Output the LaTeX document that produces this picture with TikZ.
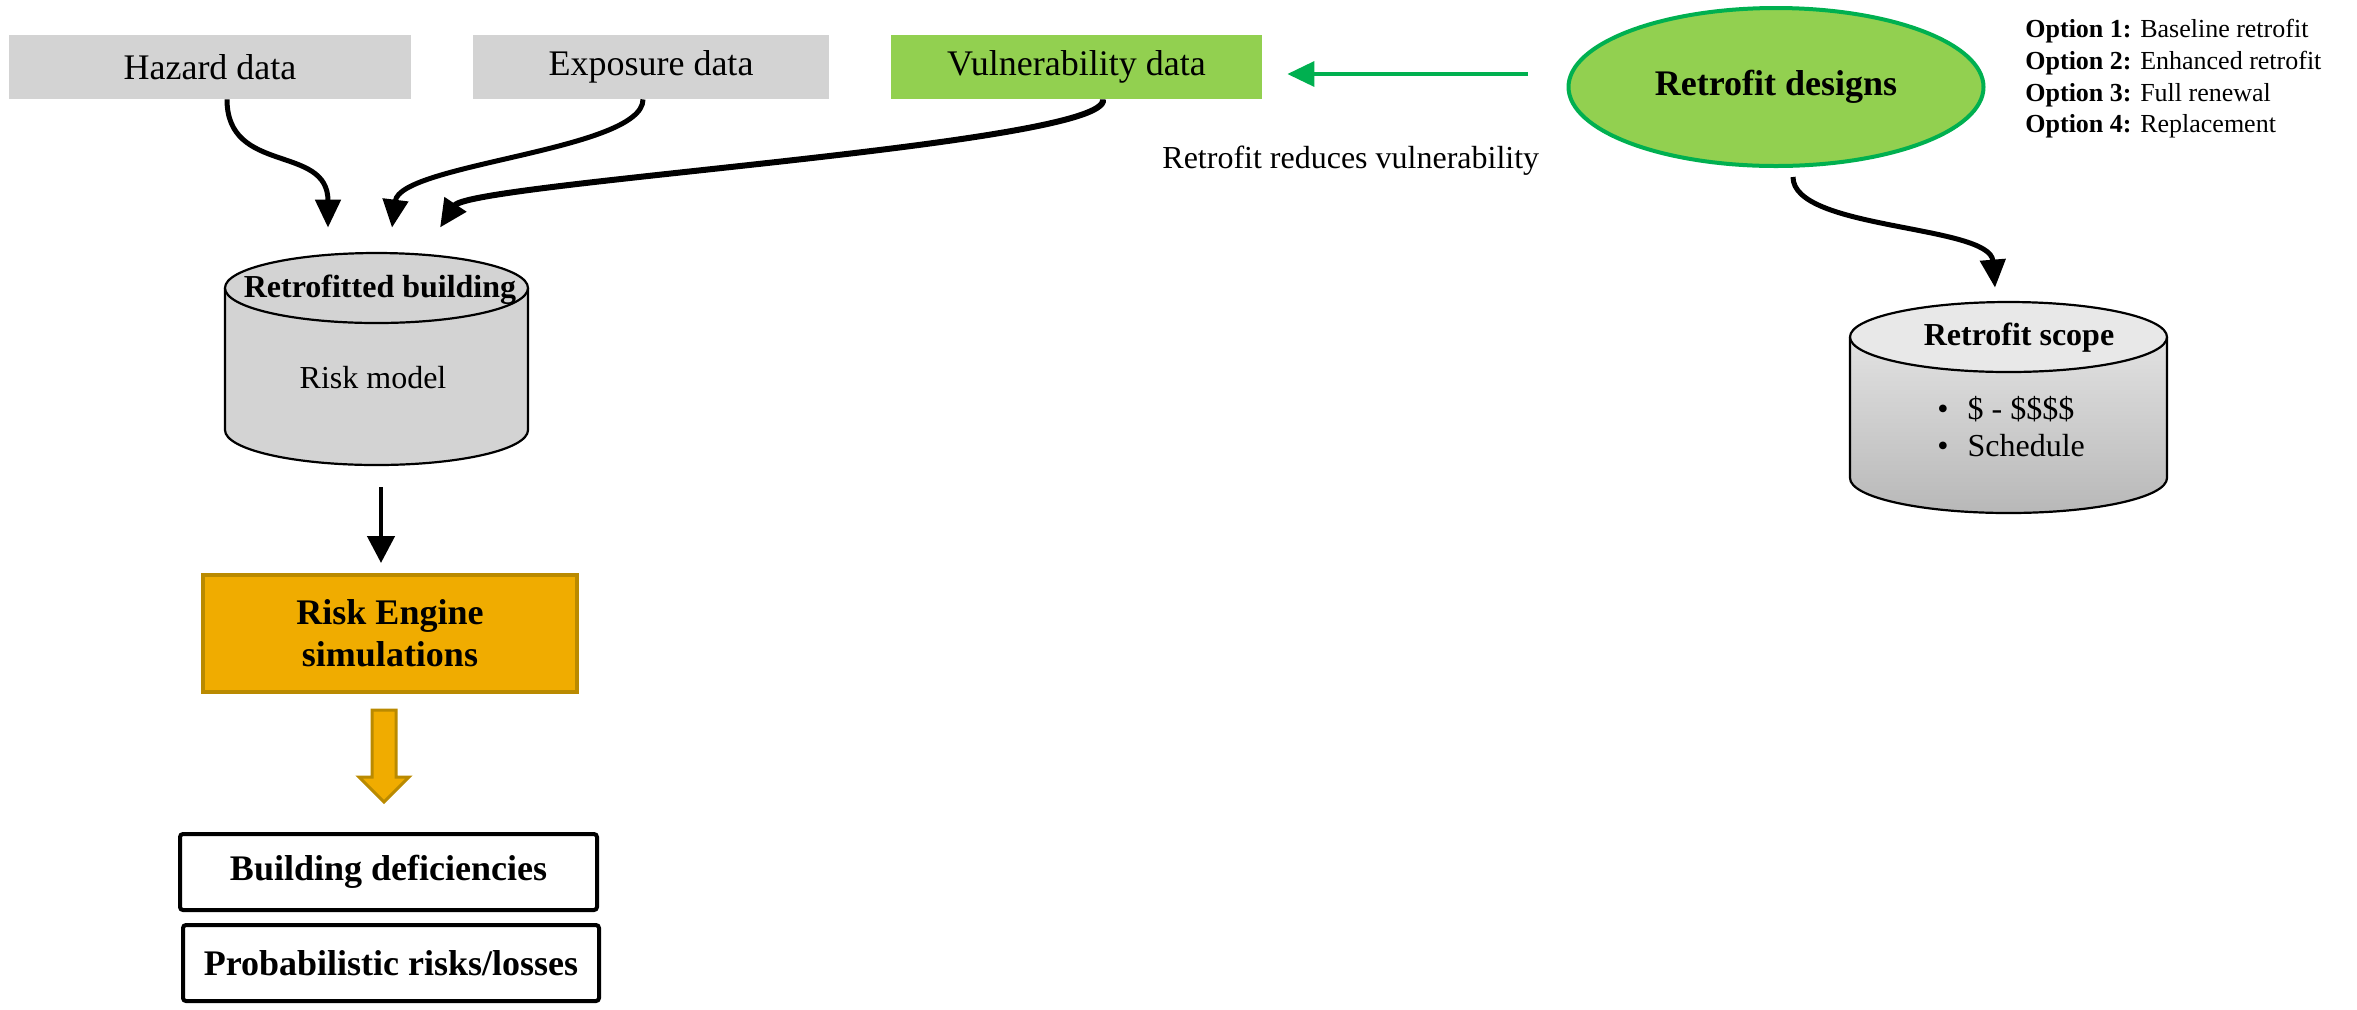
\documentclass[tikz,border=0pt]{standalone}
\usepackage{fontspec}
\setmainfont{Liberation Serif}
\usetikzlibrary{shapes.geometric,arrows.meta,calc}
\definecolor{boxgray}{HTML}{D3D3D3}
\definecolor{leaf}{HTML}{92D050}
\definecolor{leafedge}{HTML}{00B050}
\definecolor{gold}{HTML}{F0AC00}
\definecolor{goldedge}{HTML}{BA8A00}
\definecolor{scopelid}{HTML}{E8E8E8}
\definecolor{scopetop}{HTML}{E2E2E2}
\definecolor{scopebot}{HTML}{B8B8B8}

\begin{document}
\begin{tikzpicture}[x=0.5pt,y=-0.5pt,
  databox/.style={rectangle, fill=boxgray, inner sep=0pt, minimum height=32pt,
    font=\fontsize{18}{21}\selectfont},
  hidden/.style={rectangle, inner sep=0pt},
  cylline/.style={draw=black, line width=1.1pt},
  flow/.style={line width=2.5pt, -{Triangle[length=14pt,width=12.5pt]}},
  garrow/.style={draw=leafedge, line width=1.75pt,
    -{Triangle[length=13.5pt,width=12.5pt]}},
  resultbox/.style={rectangle, draw=black, line width=2pt, rounded corners=1.5pt,
    inner sep=0pt, font=\bfseries\fontsize{18}{21}\selectfont},
  opt/.style={anchor=base west, inner sep=0pt, font=\fontsize{13}{16}\selectfont},
  label16/.style={inner sep=0pt, font=\fontsize{16}{19}\selectfont}
]
\useasboundingbox (0,0) rectangle (2357,1009);

% input data
\node[databox, minimum width=201pt] (hazard) at (210,67) {Hazard data};
\node[databox, minimum width=178pt] (exposure) at (651,67) {Exposure data};
\node[databox, fill=leaf, minimum width=185.5pt] (vuln) at (1076.5,67) {Vulnerability data};

% retrofit designs and options
\node[ellipse, fill=leaf, draw=leafedge, line width=2pt, minimum width=207.5pt,
  minimum height=79pt, inner sep=0pt, font=\bfseries\fontsize{18}{21}\selectfont]
  (designs) at (1776,87) {Retrofit designs};
\node[opt] (opt1) at (2025,37) {\textbf{Option 1:} Baseline retrofit};
\node[opt] (opt2) at (2025,69) {\textbf{Option 2:} Enhanced retrofit};
\node[opt] (opt3) at (2025,101) {\textbf{Option 3:} Full renewal};
\node[opt] (opt4) at (2025,132) {\textbf{Option 4:} Replacement};

\node[label16, anchor=base west] (reduces) at (1162,168) {Retrofit reduces vulnerability};

% risk model cylinder
\node[hidden, minimum width=151.5pt, minimum height=106pt] (rm) at (376.5,359) {};
\path[fill=boxgray] (225,288) rectangle (528,430);
\draw[cylline, fill=boxgray] (225,288) -- (225,430)
  arc[start angle=180, end angle=360, x radius=75.75pt, y radius=17.5pt] -- (528,288);
\draw[cylline, fill=boxgray] (376.5,288) ellipse [x radius=75.75pt, y radius=17.5pt];
\node[label16, font=\bfseries\fontsize{16}{19}\selectfont] (rmtitle) at (380,290) {Retrofitted building};
\node[label16] (rmbody) at (373,378) {Risk model};

% risk engine
\node[rectangle, fill=gold, draw=goldedge, line width=2pt, minimum width=187pt,
  minimum height=58.5pt, inner sep=0pt, align=center,
  font=\bfseries\fontsize{18}{21}\selectfont] (engine) at (390,633.5) {Risk Engine\\simulations};

% results
\node[resultbox, minimum width=208.5pt, minimum height=38pt] (defic) at (388.5,872) {Building deficiencies};
\node[resultbox, minimum width=208pt, minimum height=38pt] (losses) at (391,963) {Probabilistic risks/losses};

% retrofit scope cylinder
\node[hidden, minimum width=158.5pt, minimum height=105.5pt] (scope) at (2008.5,407.5) {};
\shade[top color=scopetop, bottom color=scopebot] (1850,337) -- (1850,478)
  arc[start angle=180, end angle=360, x radius=79.25pt, y radius=17.5pt] -- (2167,337) -- cycle;
\draw[cylline] (1850,337) -- (1850,478)
  arc[start angle=180, end angle=360, x radius=79.25pt, y radius=17.5pt] -- (2167,337);
\draw[cylline, fill=scopelid] (2008.5,337) ellipse [x radius=79.25pt, y radius=17.5pt];
\node[label16, font=\bfseries\fontsize{16}{19}\selectfont] (scopetitle) at (2019,338) {Retrofit scope};
\node[label16, anchor=west, font=\fontsize{16}{18.5}\selectfont] (scopeitems) at (1937,431)
  {\begin{tabular}{@{}l@{\hspace{9.5pt}}l@{}}\textbullet & \$ - \$\$\$\$\\ \textbullet & Schedule\end{tabular}};

% connectors
\draw[flow] ($(hazard.south)+(17,0)$) .. controls +(0,76) and +(0,-84) .. ($(rm.north)+(-48.5,-25)$);
\draw[flow] ($(exposure.south)+(-8,0)$) .. controls +(0,51) and +(8,-64) .. ($(rm.north)+(15.5,-25)$);
\draw[flow, line width=3pt] ($(vuln.south)+(26.5,0)$) .. controls +(8,45) and +(30,-45) .. ($(rm.north)+(63.5,-25)$);
\draw[flow, line width=2.3pt, -{Triangle[length=13.5pt,width=13.5pt]}] ($(rm.south)+(4.5,22)$) -- ($(engine.north)+(-9,-10)$);

\coordinate (gy) at (0,74);
\draw[garrow, shorten <=19.25pt, shorten >=12.5pt] (designs.west |- gy) -- (vuln.east |- gy);

\draw[flow] ($(designs.south)+(17,9)$) .. controls +(0,53) and +(-5,-63) .. ($(scope.north)+(-13.5,-14)$);

% block arrow from the engine to the results
\draw[fill=gold, draw=goldedge, line width=1.5pt, line join=miter]
  ($(engine.south)+(-18,16)$) -- ++(24,0) -- ++(0,67) -- ++(13,0) -- ++(-25,25)
  -- ++(-25,-25) -- ++(13,0) -- cycle;
\end{tikzpicture}
\end{document}
